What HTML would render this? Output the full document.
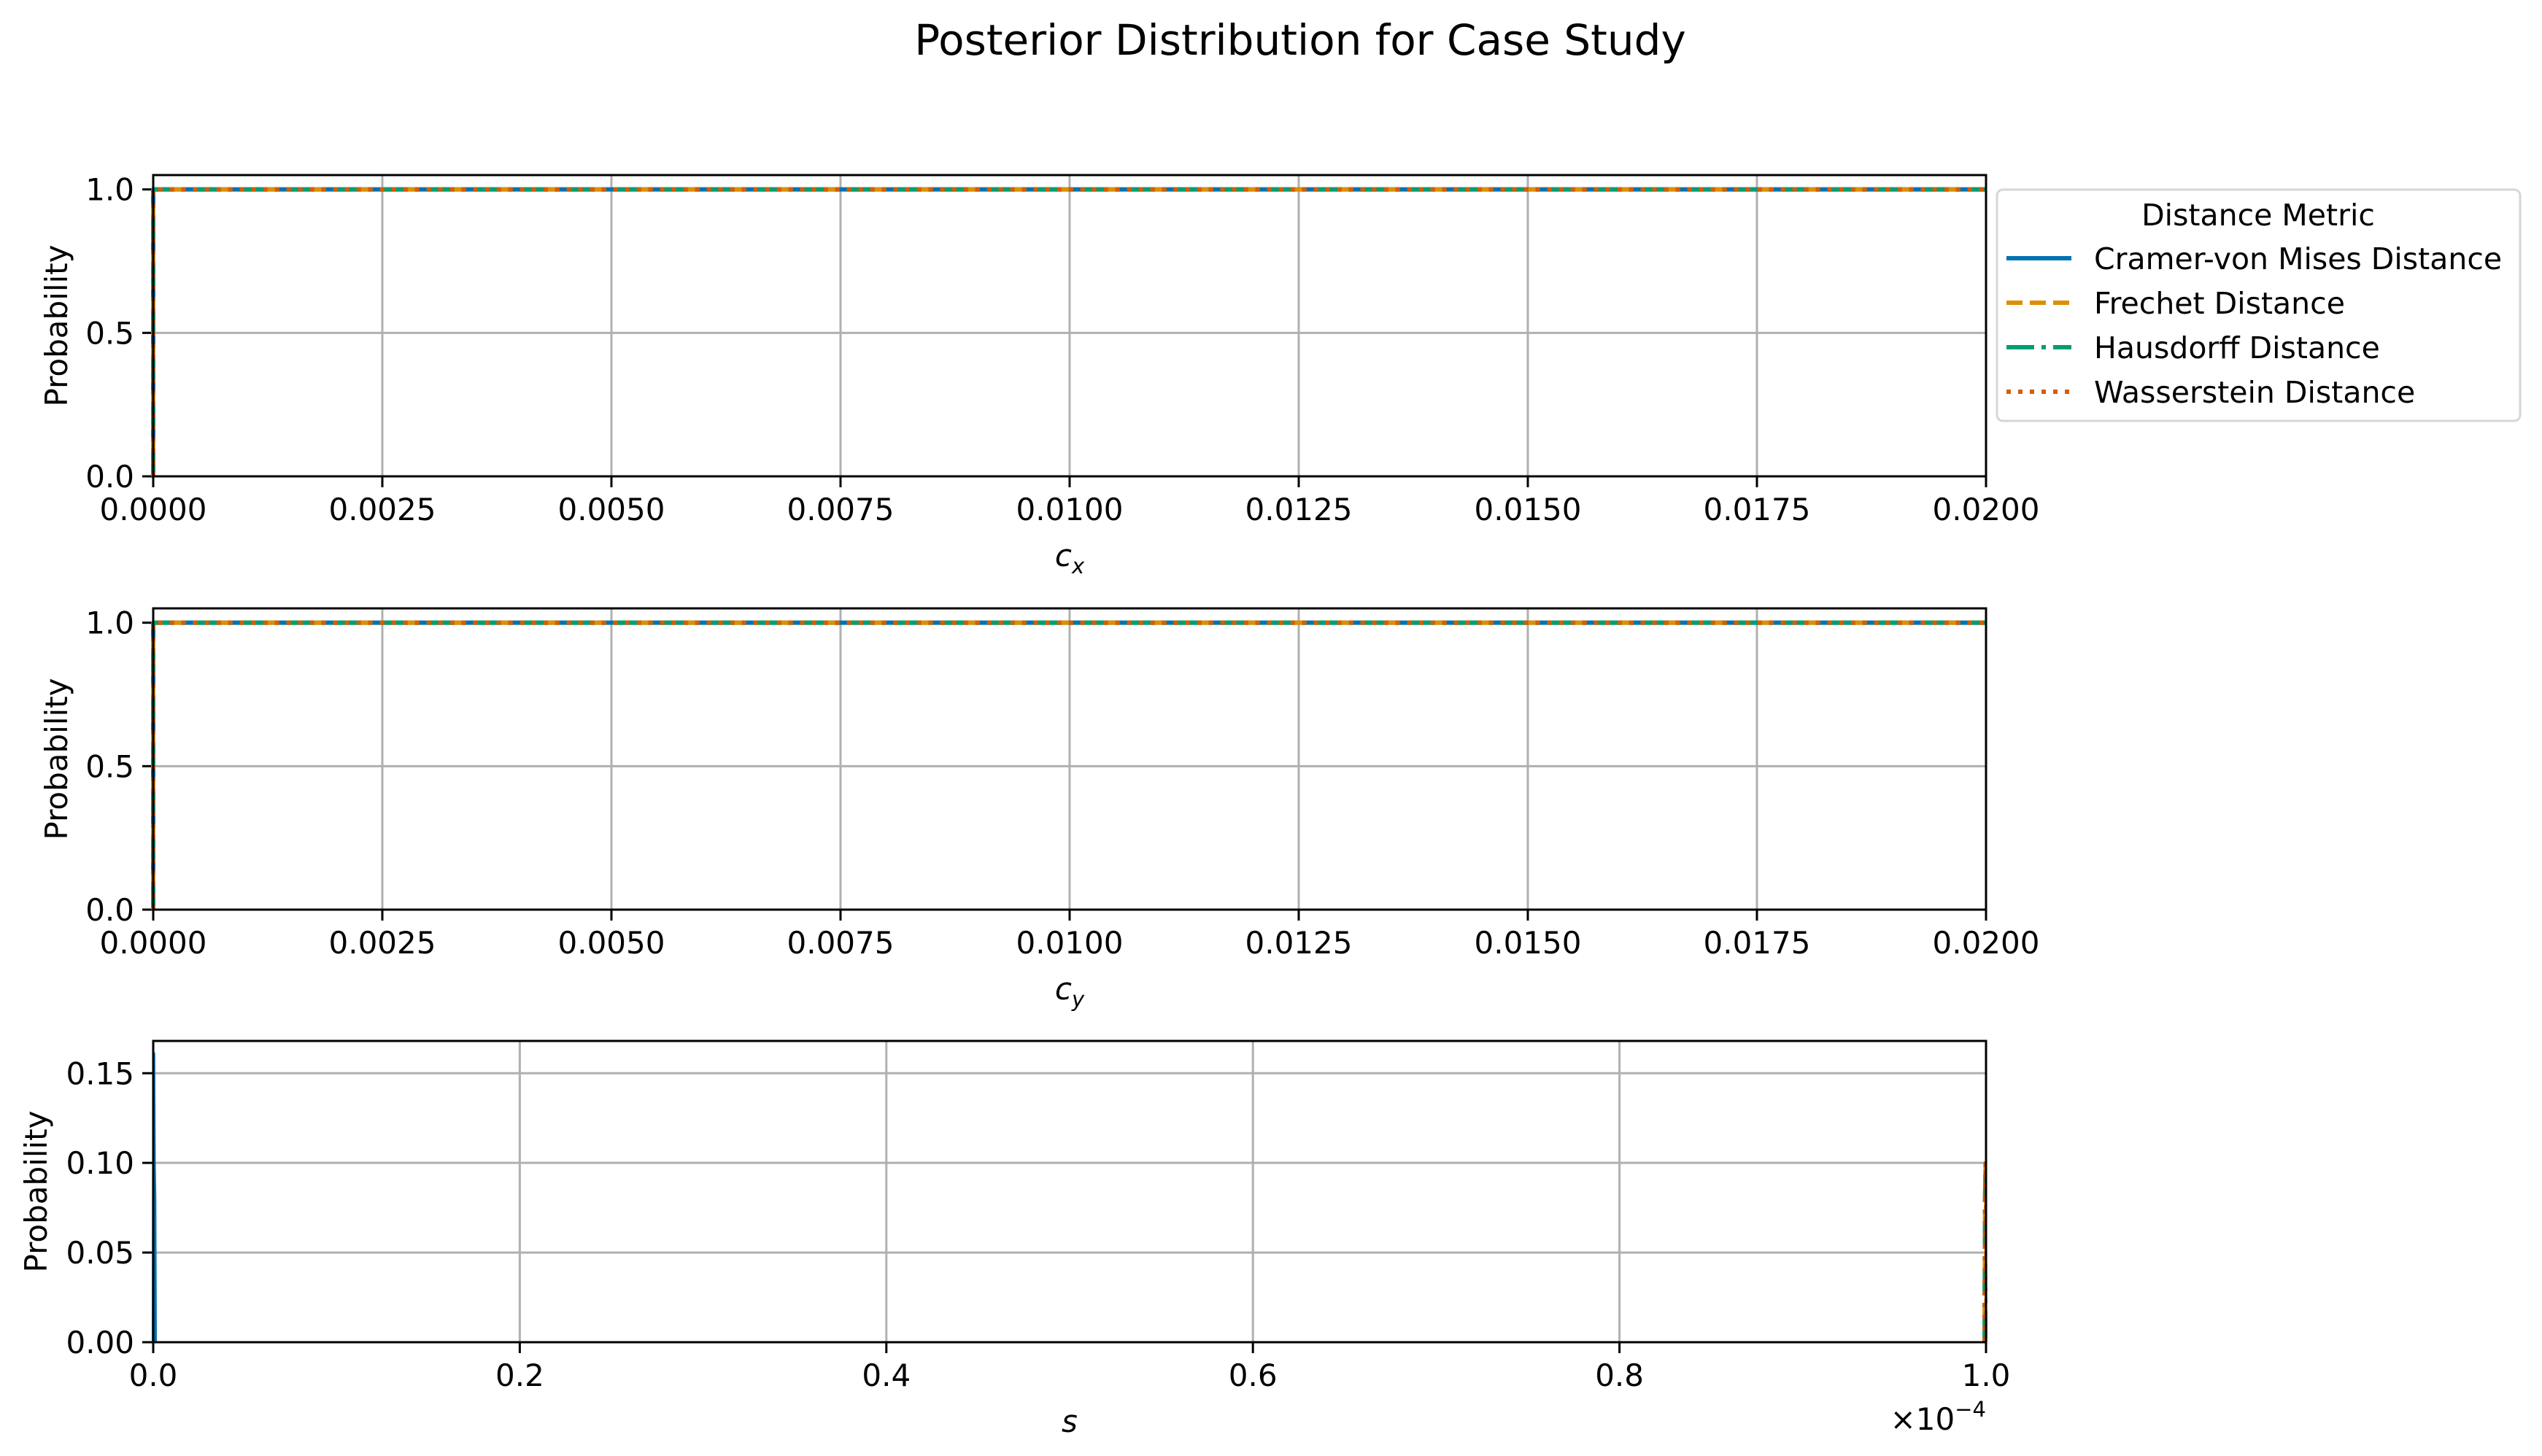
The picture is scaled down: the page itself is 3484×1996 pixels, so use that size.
<!DOCTYPE html>
<html><head><meta charset="utf-8"><style>
html,body{margin:0;padding:0;background:#fff}
svg{display:block;font-family:"DejaVu Sans","Liberation Sans",sans-serif}
</style></head><body>
<svg id="fig" width="3484" height="1996" viewBox="0 0 3484 1996" xmlns="http://www.w3.org/2000/svg">
<rect width="3484" height="1996" fill="#fff"/>
<text x="1782" y="75" font-size="58" text-anchor="middle">Posterior Distribution for Case Study</text>
<g id="plots"></g>
<g>
<rect x="2737" y="260" width="717" height="317" rx="8" fill="#fff" stroke="#d6d6d6" stroke-width="3"/>
<text x="3095" y="309" font-size="41" text-anchor="middle">Distance Metric</text>
<g><line x1="2750" y1="354" x2="2839" y2="354" stroke="#0173b2" stroke-width="6"/><text x="2870" y="369" font-size="41">Cramer-von Mises Distance</text></g>
<g><line x1="2750" y1="415" x2="2839" y2="415" stroke="#de8f05" stroke-width="6" stroke-dasharray="22 10"/><text x="2870" y="430" font-size="41">Frechet Distance</text></g>
<g><line x1="2750" y1="476" x2="2839" y2="476" stroke="#029e73" stroke-width="6" stroke-dasharray="38 10 6 10"/><text x="2870" y="491" font-size="41">Hausdorff Distance</text></g>
<g><line x1="2750" y1="537" x2="2839" y2="537" stroke="#d55e00" stroke-width="6" stroke-dasharray="6 10"/><text x="2870" y="552" font-size="41">Wasserstein Distance</text></g>
</g>
</svg>
<script>
// ---- data ----
const seriesNames = ["Cramer-von Mises Distance","Frechet Distance","Hausdorff Distance","Wasserstein Distance"];
const cxTicks = [0,0.0025,0.005,0.0075,0.01,0.0125,0.015,0.0175,0.02];
const cxTickLabels = ["0.0000","0.0025","0.0050","0.0075","0.0100","0.0125","0.0150","0.0175","0.0200"];
const probTicks = [0,0.5,1.0];
const probTickLabels = ["0.0","0.5","1.0"];
const sTicks = [0,0.2,0.4,0.6,0.8,1.0];
const sTickLabels = ["0.0","0.2","0.4","0.6","0.8","1.0"];
const sProbTicks = [0,0.05,0.10,0.15];
const sProbTickLabels = ["0.00","0.05","0.10","0.15"];
const cxX = [0,0,0.02];
const cxCramer = [0,1,1];
const cxFrechet = [0,1,1];
const cxHausdorff = [0,1,1];
const cxWasserstein = [0,1,1];
const cyX = [0,0,0.02];
const cyCramer = [0,1,1];
const cyFrechet = [0,1,1];
const cyHausdorff = [0,1,1];
const cyWasserstein = [0,1,1];
// posterior for s (units of 1e-4)
const sXLow = [0,0.0003,0.0006,0.0009,0.0012];
const sCramer = [0,0.161,0.10,0.08,0];
const sXHigh = [0.9988,0.9991,0.9994,0.9997,1.0];
const sFrechet = [0,0.08,0.10,0.08,0];
const sHausdorff = [0,0.08,0.10,0.08,0];
const sWasserstein = [0,0.08,0.10,0.08,0];

const colors = ["#0173b2","#de8f05","#029e73","#d55e00"];
const dashes = ["", "22 10", "38 10 6 10", "6 10"];
const NS = "http://www.w3.org/2000/svg";
const root = document.getElementById('plots');
function mk(tag, attrs, parent){const e=document.createElementNS(NS,tag);for(const k in attrs)e.setAttribute(k,attrs[k]);(parent||root).appendChild(e);return e;}

function drawAxes(cfg){
  const L=210,R=2722,T=cfg.top,B=cfg.top+413;
  const sx=v=>L+(v-cfg.xmin)/(cfg.xmax-cfg.xmin)*(R-L);
  const sy=v=>B-(v-cfg.ymin)/(cfg.ymax-cfg.ymin)*(B-T);
  const g=mk('g',{});
  
  
  cfg.xticks.forEach((t,i)=>{
    const x=sx(t);
    const gl=mk('line',{x1:x,y1:T,x2:x,y2:B,stroke:'#b0b0b0','stroke-width':3},g);
    
    
    mk('line',{x1:x,y1:B,x2:x,y2:B+15,stroke:'#000','stroke-width':3},g);
    const tx=mk('text',{x:x,y:B+60,'font-size':42,'text-anchor':'middle'},g);
    
    
    tx.textContent=cfg.xlabels[i];
  });
  cfg.yticks.forEach((t,i)=>{
    const y=sy(t);
    const gl=mk('line',{x1:L,y1:y,x2:R,y2:y,stroke:'#b0b0b0','stroke-width':3},g);
    
    
    mk('line',{x1:L-15,y1:y,x2:L,y2:y,stroke:'#000','stroke-width':3},g);
    const tx=mk('text',{x:L-26,y:y+15,'font-size':42,'text-anchor':'end'},g);
    
    
    tx.textContent=cfg.ylabels[i];
  });
  cfg.series.forEach((s,i)=>{
    const pts=s.x.map((v,j)=>sx(v)+','+sy(s.y[j])).join(' ');
    const pl=mk('polyline',{points:pts,fill:'none',stroke:colors[i],'stroke-width':cfg.lw||6,'stroke-dasharray':dashes[i]||'none','stroke-linejoin':'round'},g);
    
    
  });
  const fr=mk('rect',{x:L,y:T,width:R-L,height:B-T,fill:'none',stroke:'#000','stroke-width':3},g);
  
  
  const yl=mk('text',{x:cfg.ylx,y:(T+B)/2,'font-size':42,'text-anchor':'middle',transform:`rotate(-90 ${cfg.ylx} ${(T+B)/2})`},g);
  
  
  yl.textContent='Probability';
  const xl=mk('text',{x:(L+R)/2,y:B+123,'font-size':42,'text-anchor':'middle','font-style':'italic'},g);
  
  
  xl.textContent=cfg.xt;
  if(cfg.sub){const ts=mk('tspan',{'font-size':29,dy:10},xl);ts.textContent=cfg.sub;}
  return {B};
}
drawAxes({name:'cx-axes',top:240,xmin:0,xmax:0.02,ymin:0,ymax:1.05,xticks:cxTicks,xlabels:cxTickLabels,yticks:probTicks,ylabels:probTickLabels,ylx:92,xt:'c',sub:'x',
  series:[{x:cxX,y:cxCramer},{x:cxX,y:cxFrechet},{x:cxX,y:cxHausdorff},{x:cxX,y:cxWasserstein}]});
drawAxes({name:'cy-axes',top:834,xmin:0,xmax:0.02,ymin:0,ymax:1.05,xticks:cxTicks,xlabels:cxTickLabels,yticks:probTicks,ylabels:probTickLabels,ylx:92,xt:'c',sub:'y',
  series:[{x:cyX,y:cyCramer},{x:cyX,y:cyFrechet},{x:cyX,y:cyHausdorff},{x:cyX,y:cyWasserstein}]});
drawAxes({name:'s-axes',top:1427,xmin:0,xmax:1.0,ymin:0,ymax:0.168,xticks:sTicks,xlabels:sTickLabels,yticks:sProbTicks,ylabels:sProbTickLabels,ylx:64,xt:'s',lw:4,
  series:[{x:sXLow,y:sCramer},{x:sXHigh,y:sFrechet},{x:sXHigh,y:sHausdorff},{x:sXHigh,y:sWasserstein}]});
const off=mk('text',{x:2722,y:1960,'font-size':42,'text-anchor':'end'});


off.textContent='×10';
const sup=mk('tspan',{'font-size':29,dy:-18},off);sup.textContent='−4';
</script>
</body></html>
